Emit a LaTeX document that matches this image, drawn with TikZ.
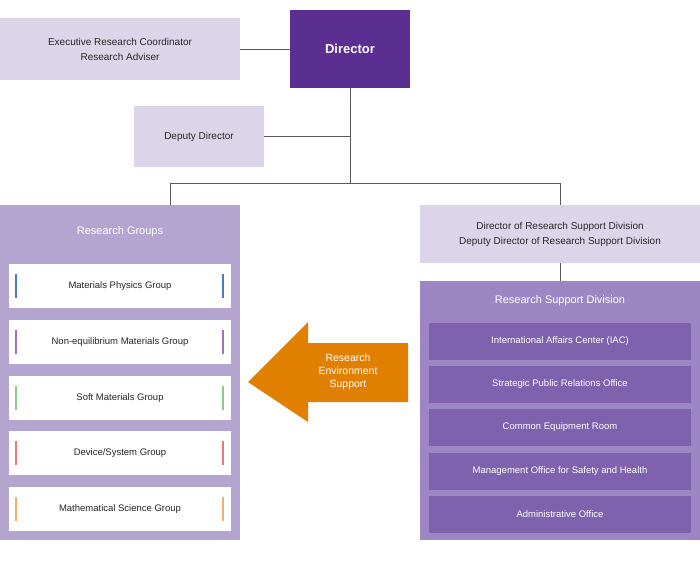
\documentclass[tikz,border=0pt]{standalone}
\usepackage{fontspec}
\setmainfont{Liberation Sans}
\usetikzlibrary{positioning}
\definecolor{lav}{HTML}{DCD5EA}
\definecolor{dirc}{HTML}{5B2E91}
\definecolor{grpbg}{HTML}{B4A5D0}
\definecolor{supbg}{HTML}{9C86C4}
\definecolor{supbox}{HTML}{7E62AE}
\definecolor{arrowc}{HTML}{E07F00}
\definecolor{cblue}{HTML}{4A7CC4}
\definecolor{cpurp}{HTML}{A070B8}
\definecolor{cgreen}{HTML}{8CC98A}
\definecolor{cred}{HTML}{E87A7A}
\definecolor{corange}{HTML}{F0B070}
\tikzset{
  box/.style={draw=none, inner sep=0pt, align=center, text=black!85, font=\fontsize{10}{15}\selectfont},
  grp/.style={box, fill=white, minimum width=222pt, minimum height=44pt, font=\fontsize{9.5}{12}\selectfont},
  sup/.style={box, fill=supbox, text=white, minimum width=262pt, minimum height=37pt, font=\fontsize{9.5}{12}\selectfont},
  conn/.style={draw=black!65, line width=0.6pt}
}
\begin{document}
\begin{tikzpicture}[x=1pt,y=-1pt]
\useasboundingbox (0,0) rectangle (700,560);
% top
\node (exec) [box, fill=lav, minimum width=240pt, minimum height=62pt] at (120,49) {Executive Research Coordinator\\Research Adviser};
\node (dir) [box, fill=dirc, text=white, minimum width=120pt, minimum height=78pt, font=\fontsize{13}{15}\selectfont\bfseries] at (350,49) {Director};
\node (dep) [box, fill=lav, minimum width=130pt, minimum height=61pt] at (199,136.5) {Deputy Director};
\draw[conn] (exec.east) -- (dir.west);
\coordinate (j1) at (350,136.5);
\coordinate (j2) at (350,183);
\coordinate (jl) at (170,183);
\coordinate (jr) at (560,183);
\draw[conn] (dir.south) -- (j2);
\draw[conn] (dep.east) -- (j1);
\draw[conn] (jl) -- (jr);
% research groups
\node (rg) [box, fill=grpbg, minimum width=240pt, minimum height=335pt] at (120,372.5) {};
\node (rgt) [text=white, font=\fontsize{11}{13}\selectfont] at (120,232) {Research Groups};
\draw[conn] (jl) -- (rg.north -| jl);
\foreach \t/\y/\c [count=\i] in {Materials Physics Group/286/cblue,
  Non-equilibrium Materials Group/342/cpurp,
  Soft Materials Group/398/cgreen,
  {Device/System Group}/453/cred,
  Mathematical Science Group/509/corange}{
  \node (g\i) [grp] at (120,\y) {\t};
  \draw[\c, line width=2.5pt] (16,\y-12) -- (16,\y+12);
  \draw[\c, line width=2.5pt] (223,\y-12) -- (223,\y+12);
}
% support side
\node (drsd) [box, fill=lav, minimum width=280pt, minimum height=58pt] at (560,234) {Director of Research Support Division\\Deputy Director of Research Support Division};
\draw[conn] (jr) -- (drsd.north);
\node (rsd) [box, fill=supbg, minimum width=280pt, minimum height=259pt] at (560,410.5) {};
\draw[conn] (drsd.south) -- (rsd.north);
\node (rsdt) [text=white, font=\fontsize{11}{13}\selectfont] at (560,301) {Research Support Division};
\foreach \t/\y [count=\i] in {International Affairs Center (IAC)/341.5,
  Strategic Public Relations Office/384.5,
  Common Equipment Room/427.5,
  Management Office for Safety and Health/471.5,
  Administrative Office/514.5}{
  \node (s\i) [sup] at (560,\y) {\t};
}
% arrow
\fill[arrowc] (248,382) -- (308,322) -- (308,343) -- (408,343) -- (408,402) -- (308,402) -- (308,422) -- cycle;
\node (res) [text=white, align=center, font=\fontsize{10.5}{13}\selectfont] at (348,372) {Research\\Environment\\Support};
\end{tikzpicture}
\end{document}
